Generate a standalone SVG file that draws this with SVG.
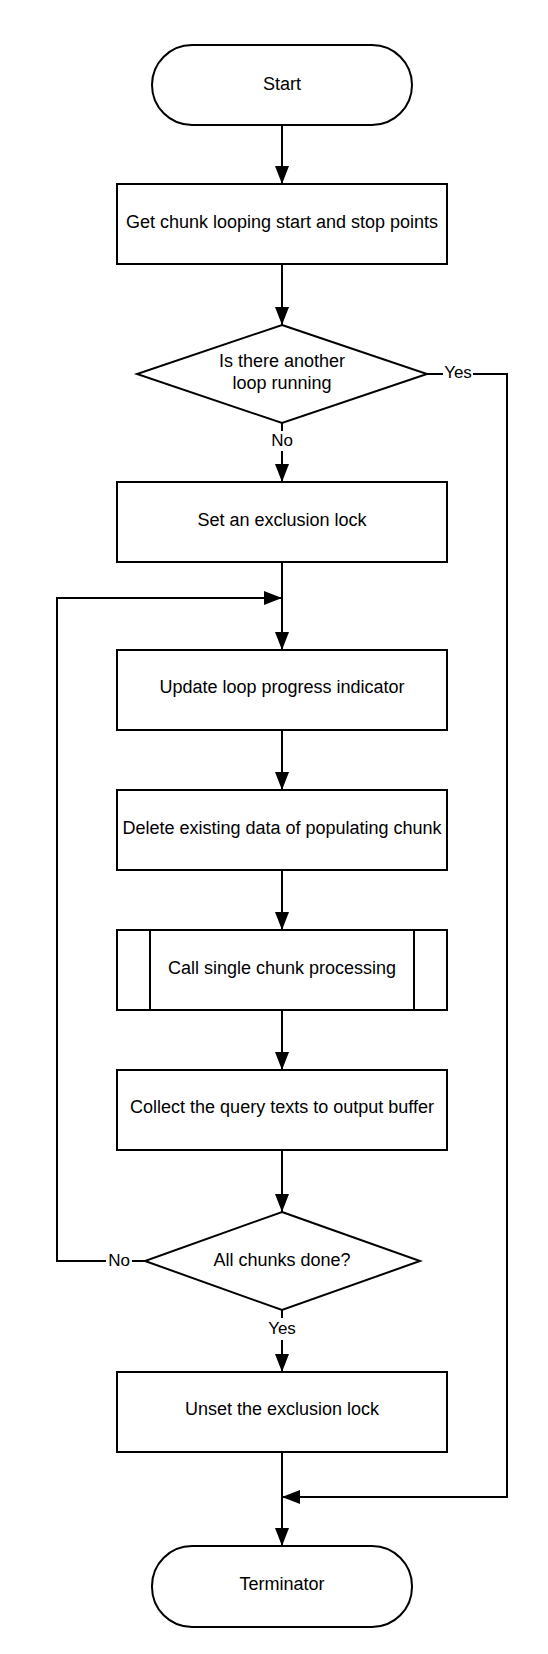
<svg xmlns="http://www.w3.org/2000/svg" width="548" height="1654" viewBox="0 0 548 1654">
<style>
.shape{fill:#fff;stroke:#000;stroke-width:2}
.conn{fill:none;stroke:#000;stroke-width:2}
text{font-family:"Liberation Sans",Arial,sans-serif;font-size:18px;fill:#000;text-anchor:middle}
text.l{font-size:17px}
.lbl{fill:#fff;stroke:none}
</style>
<defs>
<marker id="arr" markerUnits="userSpaceOnUse" markerWidth="18" markerHeight="14" refX="18" refY="7" orient="auto">
<path d="M0,0 L18,7 L0,14 z" fill="#000"/>
</marker>
</defs>
<rect width="548" height="1654" fill="#fff"/>
<g id="connectors">
<line class="conn" x1="282" y1="125" x2="282" y2="184" marker-end="url(#arr)"/>
<line class="conn" x1="282" y1="264" x2="282" y2="325" marker-end="url(#arr)"/>
<line class="conn" x1="282" y1="423" x2="282" y2="482" marker-end="url(#arr)"/>
<line class="conn" x1="282" y1="562" x2="282" y2="650" marker-end="url(#arr)"/>
<line class="conn" x1="282" y1="730" x2="282" y2="790" marker-end="url(#arr)"/>
<line class="conn" x1="282" y1="870" x2="282" y2="930" marker-end="url(#arr)"/>
<line class="conn" x1="282" y1="1010" x2="282" y2="1070" marker-end="url(#arr)"/>
<line class="conn" x1="282" y1="1150" x2="282" y2="1212" marker-end="url(#arr)"/>
<line class="conn" x1="282" y1="1310" x2="282" y2="1372" marker-end="url(#arr)"/>
<line class="conn" x1="282" y1="1452" x2="282" y2="1546" marker-end="url(#arr)"/>
<polyline class="conn" points="427,374 507,374 507,1497 282,1497" marker-end="url(#arr)"/>
<polyline class="conn" points="145,1261 57,1261 57,598 282,598" marker-end="url(#arr)"/>
<rect class="lbl" x="443" y="362" width="30" height="22"/>
<text class="l" x="458" y="378">Yes</text>
<rect class="lbl" x="270" y="431" width="24" height="20"/>
<text class="l" x="282" y="446">No</text>
<rect class="lbl" x="106" y="1250" width="26" height="22"/>
<text class="l" x="119" y="1266">No</text>
<rect class="lbl" x="266" y="1318" width="32" height="22"/>
<text class="l" x="282" y="1334">Yes</text>
</g>
<g id="start">
<rect class="shape" x="152" y="45" width="260" height="80" rx="40" ry="40"/>
<text x="282" y="90">Start</text>
</g>
<g id="get-points">
<rect class="shape" x="117" y="184" width="330" height="80"/>
<text x="282" y="228">Get chunk looping start and stop points</text>
</g>
<g id="another-loop">
<polygon class="shape" points="282,325 427,374 282,423 137,374"/>
<text x="282" y="367">Is there another</text>
<text x="282" y="389">loop running</text>
</g>
<g id="set-lock">
<rect class="shape" x="117" y="482" width="330" height="80"/>
<text x="282" y="526">Set an exclusion lock</text>
</g>
<g id="update-progress">
<rect class="shape" x="117" y="650" width="330" height="80"/>
<text x="282" y="693">Update loop progress indicator</text>
</g>
<g id="delete-data">
<rect class="shape" x="117" y="790" width="330" height="80"/>
<text x="282" y="834">Delete existing data of populating chunk</text>
</g>
<g id="call-processing">
<rect class="shape" x="117" y="930" width="330" height="80"/>
<line class="conn" x1="150" y1="930" x2="150" y2="1010"/>
<line class="conn" x1="414" y1="930" x2="414" y2="1010"/>
<text x="282" y="974">Call single chunk processing</text>
</g>
<g id="collect-texts">
<rect class="shape" x="117" y="1070" width="330" height="80"/>
<text x="282" y="1113">Collect the query texts to output buffer</text>
</g>
<g id="all-done">
<polygon class="shape" points="282,1212 420,1261 282,1310 145,1261"/>
<text x="282" y="1266">All chunks done?</text>
</g>
<g id="unset-lock">
<rect class="shape" x="117" y="1372" width="330" height="80"/>
<text x="282" y="1415">Unset the exclusion lock</text>
</g>
<g id="terminator">
<rect class="shape" x="152" y="1546" width="260" height="81" rx="40" ry="40"/>
<text x="282" y="1590">Terminator</text>
</g>
</svg>
